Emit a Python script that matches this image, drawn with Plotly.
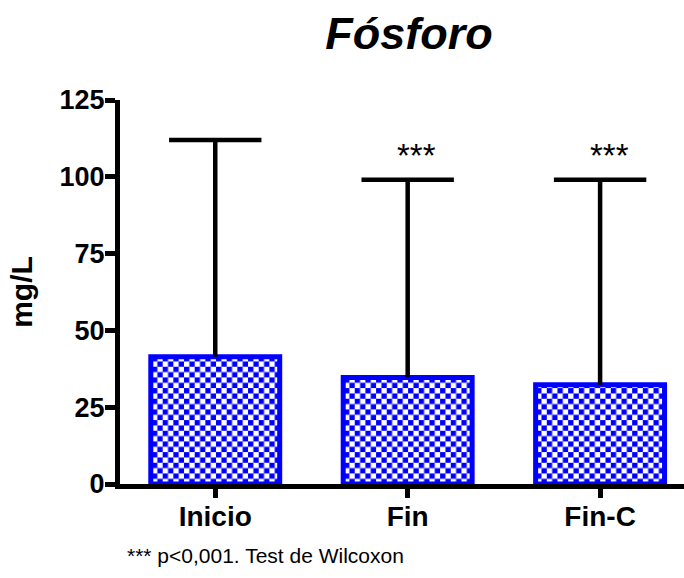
import plotly.graph_objects as go

categories = ["Inicio", "Fin", "Fin-C"]
means = [41.4, 34.7, 32.3]
upper = [112, 99, 99]
signif = ["", "***", "***"]
y_ticks = [0, 25, 50, 75, 100, 125]
footnote = "*** p<0,001. Test de Wilcoxon"
title = "Fósforo"
y_title = "mg/L"

FONT = "Liberation Sans, Arial, sans-serif"
BLUE = "#0000ff"

fig = go.Figure()
fig.add_trace(go.Bar(
    x=categories,
    y=means,
    width=0.67,
    marker=dict(
        color="white",
        line=dict(color=BLUE, width=5),
        pattern=dict(shape="x", fgcolor=BLUE, bgcolor="white", size=10.67, solidity=0.5),
    ),
    showlegend=False,
    hoverinfo="skip",
))

# whiskers (upward only) from the bar top to the upper value
wx, wy = [], []
for c, m, u in zip(categories, means, upper):
    wx += [c, c, None]
    wy += [m, u, None]
fig.add_trace(go.Scatter(x=wx, y=wy, mode="lines", line=dict(color="black", width=4.5),
                         showlegend=False, hoverinfo="skip"))
# caps
fig.add_trace(go.Scatter(x=categories, y=upper, mode="markers",
                         marker=dict(symbol="line-ew", size=66, line=dict(color="black", width=4.5)),
                         showlegend=False, hoverinfo="skip"))

for cat, s, u in zip(categories, signif, upper):
    if s:
        fig.add_annotation(x=cat, y=u, text=s, showarrow=False, yanchor="bottom",
                           yshift=4, xshift=9, font=dict(family=FONT, size=33, color="black"))

fig.add_annotation(xref="paper", yref="paper", x=(125 - 120) / 564, y=-(555 - 484) / 384,
                   xanchor="left", yanchor="middle", text=footnote, showarrow=False,
                   font=dict(family=FONT, size=21, color="black"))

fig.update_layout(
    width=684, height=578,
    margin=dict(l=120, r=0, t=100, b=94),
    plot_bgcolor="white", paper_bgcolor="white",
    title=dict(text=title, x=409 / 684, xanchor="center",
               y=1 - 33 / 578, yanchor="middle",
               font=dict(family=FONT, size=45, color="black", weight="bold", style="italic")),
)
fig.update_xaxes(
    range=[-0.495, 2.436], showline=True, linewidth=5, linecolor="black",
    ticks="outside", ticklen=9, tickwidth=5, tickcolor="black",
    tickfont=dict(family=FONT, size=28, color="black", weight="bold"),
    ticklabelstandoff=-6,
    showgrid=False, zeroline=False,
)
fig.update_yaxes(
    range=[0, 125], tickvals=y_ticks, showline=True, linewidth=5, linecolor="black",
    ticks="outside", ticklen=10, tickwidth=5, tickcolor="black",
    tickfont=dict(family=FONT, size=27, color="black", weight="bold"),
    ticklabelstandoff=-5,
    showgrid=False, zeroline=False,
    title=dict(text=y_title, standoff=20, font=dict(family=FONT, size=30, color="black", weight="bold")),
)

post = """
document.body.style.margin = '0';
var gd = document.getElementById('{plot_id}');
function checker(){
  var pats = gd.querySelectorAll('pattern');
  var s = 10.67, h = s / 2, ns = 'http://www.w3.org/2000/svg';
  pats.forEach(function(p){
    p.setAttribute('width', s); p.setAttribute('height', s);
    while (p.firstChild) { p.removeChild(p.firstChild); }
    var rects = [[0, 0, s, s, 'white'], [0, 0, h, h, '#0000ff'], [h, h, h, h, '#0000ff']];
    rects.forEach(function(r){
      var e = document.createElementNS(ns, 'rect');
      e.setAttribute('x', r[0]); e.setAttribute('y', r[1]);
      e.setAttribute('width', r[2]); e.setAttribute('height', r[3]);
      e.setAttribute('fill', r[4]);
      p.appendChild(e);
    });
  });
}
checker();
"""

fig.write_html("out.html", post_script=post, config={"displayModeBar": False})
